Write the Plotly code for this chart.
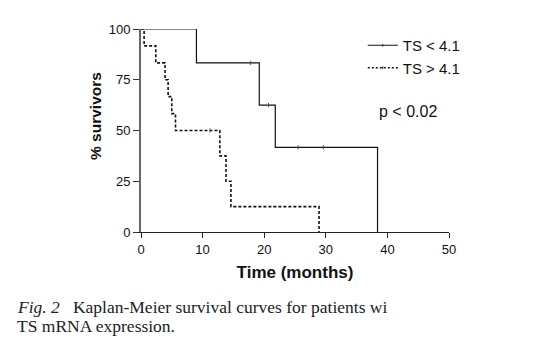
import plotly.graph_objects as go

# Kaplan-Meier step data (months, % survivors)
low_t = [0, 9.0, 17.8, 19.2, 20.7, 21.8, 25.5, 29.6, 38.4]
low_s = [100, 83.3, 83.3, 62.5, 62.5, 41.7, 41.7, 41.7, 0]
low_cens_t = [17.8, 20.7, 25.5, 29.6]
low_cens_s = [83.3, 62.5, 41.7, 41.7]

high_t = [0, 0.5, 2.4, 3.9, 4.4, 5.0, 5.6, 11.2, 12.8, 13.8, 14.6, 28.9]
high_s = [100, 91.7, 83.3, 75.0, 66.7, 58.3, 50.0, 50.0, 37.5, 25.0, 12.5, 0]
high_cens_t = [11.2]
high_cens_s = [50.0]

x_ticks = [0, 10, 20, 30, 40, 50]
y_ticks = [0, 25, 50, 75, 100]

names = ["TS < 4.1", "TS > 4.1"]

W, H = 554, 353
l, r, t, b = 141, 105, 29, 121
pw, ph = W - l - r, H - t - b


def px2paper(px, py):
    return (px - l) / pw, (H - b - py) / ph


fig = go.Figure()
fig.add_trace(go.Scatter(x=low_t, y=low_s, mode="lines", line=dict(color="#111", width=1.2, shape="hv"),
                         showlegend=False, hoverinfo="skip"))
fig.add_trace(go.Scatter(x=high_t, y=high_s, mode="lines",
                         line=dict(color="#111", width=1.6, shape="hv", dash="3px,2px"),
                         showlegend=False, hoverinfo="skip"))
fig.add_trace(go.Scatter(x=low_cens_t, y=low_cens_s, mode="markers",
                         marker=dict(symbol="line-ns", size=3, line=dict(color="#555", width=1)),
                         showlegend=False, hoverinfo="skip"))
fig.add_trace(go.Scatter(x=high_cens_t, y=high_cens_s, mode="markers",
                         marker=dict(symbol="line-ns", size=3, line=dict(color="#555", width=1)),
                         showlegend=False, hoverinfo="skip"))
# legend entries
fig.add_trace(go.Scatter(x=[None], y=[None], mode="lines+markers", name=names[0],
                         line=dict(color="#111", width=1.1),
                         marker=dict(symbol="line-ns", size=2, line=dict(color="#333", width=1))))
fig.add_trace(go.Scatter(x=[None], y=[None], mode="lines+markers", name=names[1],
                         line=dict(color="#111", width=1.3, dash="2px,2px"),
                         marker=dict(symbol="line-ns", size=2, line=dict(color="#333", width=1))))

serif = "Liberation Serif, Times New Roman, serif"
annots = []
for text, (px, py), font in [
    ("p < 0.02", (377, 112), dict(size=16)),
    ("<i>Fig. 2</i>   Kaplan-Meier survival curves for patients wi", (15, 307),
     dict(family=serif, size=17.5, color="#222")),
    ("TS mRNA expression.", (15, 326), dict(family=serif, size=17.5, color="#222")),
]:
    x, y = px2paper(px, py)
    annots.append(dict(text=text, x=x, y=y, xref="paper", yref="paper", xanchor="left",
                       yanchor="middle", showarrow=False, font=font))
# y-axis title (placed to match reference position)
yx, yy = px2paper(95, 116)
annots.append(dict(text="<b>% survivors</b>", x=yx, y=yy, xref="paper", yref="paper",
                   xanchor="center", yanchor="middle", textangle=-90, showarrow=False,
                   font=dict(size=15.5)))

fig.update_layout(
    width=W, height=H, autosize=False,
    margin=dict(l=l, r=r, t=t, b=b),
    paper_bgcolor="white", plot_bgcolor="white",
    font=dict(family="Liberation Sans, Arial, sans-serif", color="#111", size=13),
    xaxis=dict(range=[0, 50], tickvals=x_ticks, ticks="outside", ticklen=5, tickcolor="#222",
               showline=True, linecolor="#222", linewidth=1, showgrid=False, zeroline=False,
               tickfont=dict(size=13),
               title=dict(text="<b>Time (months)</b>", font=dict(size=17), standoff=10)),
    yaxis=dict(range=[0, 100], tickvals=y_ticks, ticks="outside", ticklen=6, tickcolor="#333",
               showline=True, linecolor="#666", linewidth=2, showgrid=False, zeroline=False,
               tickfont=dict(size=13)),
    legend=dict(x=0.72, y=1.0, xanchor="left", yanchor="top", bgcolor="rgba(0,0,0,0)",
                font=dict(size=15), itemwidth=30, tracegroupgap=4),
    annotations=annots,
)

fig.write_html("out.html")
